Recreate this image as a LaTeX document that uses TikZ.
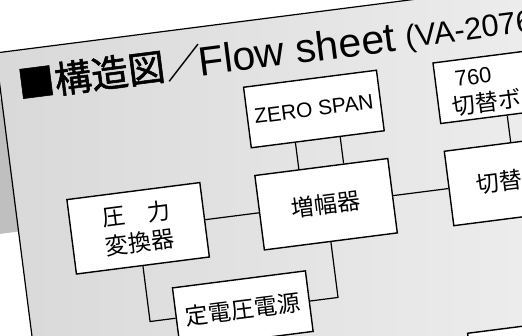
\documentclass[tikz,border=0pt]{standalone}
\usepackage{fontspec}
\setmainfont{Liberation Sans}
\newfontfamily\jp{Noto Sans CJK JP}
\newfontfamily\jpb[FakeBold=1.5]{Noto Sans CJK JP}
\usetikzlibrary{calc}
\tikzset{
  box/.style={draw=black, line width=1.4pt, fill=white, inner sep=0pt, minimum width=134pt, align=center},
  rowone/.style={box, minimum height=61pt},
  rowtwo/.style={box, minimum height=75pt},
  jpt/.style={font=\jp\fontsize{23}{29}\selectfont},
  lat/.style={font=\fontsize{21}{25}\selectfont},
  txt/.style={inner sep=0pt},
  wire/.style={line width=1.2pt},
}
\begin{document}
\begin{tikzpicture}[x=1pt,y=-1pt]
\useasboundingbox (0,0) rectangle (522,335);
\clip (0,0) rectangle (522,335);
\fill[white] (0,0) rectangle (522,335);
\begin{scope}[rotate=7.3, transform shape]
  % page
  \shade[left color=gray!30, right color=gray!8] (-11,52) rectangle (700,520);
  \fill[gray!50] (-60,98) rectangle (-11,232);
  \draw[line width=1.2pt] (-11,520) -- (-11,52) -- (700,52);
  % title
  \node[txt, font=\jpb\fontsize{37}{40}\selectfont] (ti) at (81,86) {■構造図};
  \node[txt, font=\jp\fontsize{37}{40}\selectfont] (sl) at (174.5,86) {／};
  \node[txt, anchor=base west, font=\fontsize{41}{45}\selectfont] (fs) at (189,101) {Flow sheet};
  \node[txt, anchor=base west, font=\fontsize{31}{35}\selectfont] (va) at (397,99) {(VA-2076};
  % boxes
  \node[rowtwo, jpt] (A) at (108,244) {圧　力\\変換器};
  \node[rowone, lat] (Z) at (297.5,148) {ZERO SPAN};
  \node[rowtwo, jpt] (M) at (297.5,244) {増幅器};
  \node[rowone, jpt] (P) at (201.5,338) {定電圧電源};
  \node[rowone] (S) at (488.5,148) {};
  \node[rowtwo] (T) at (488.5,244) {};
  \node[rowtwo] (U) at (488.5,427.5) {};
  \node[txt, anchor=base west, font=\fontsize{22}{26}\selectfont] (s1) at (441,144) {760};
  \node[txt, anchor=west, jpt] (s2) at (435,163) {切替ボ};
  \node[txt, anchor=west, jpt] (t1) at (449,243.5) {切替};
  % connectors
  \draw[wire] ($(Z.south west)!1/3!(Z.south east)$) -- ($(M.north west)!1/3!(M.north east)$);
  \draw[wire] ($(Z.south west)!2/3!(Z.south east)$) -- ($(M.north west)!2/3!(M.north east)$);
  \draw[wire] (A.east) -- (M.west);
  \draw[wire] (M.east) -- (T.west);
  \draw[wire] (S.south) -- (T.north);
  \draw[wire] (A.south) -- ($(A.south)!(P.west)!(A.north)$) -- (P.west);
  \draw[wire] (M.south) -- ($(M.south)!(P.east)!(M.north)$) -- (P.east);
\end{scope}
\end{tikzpicture}
\end{document}
